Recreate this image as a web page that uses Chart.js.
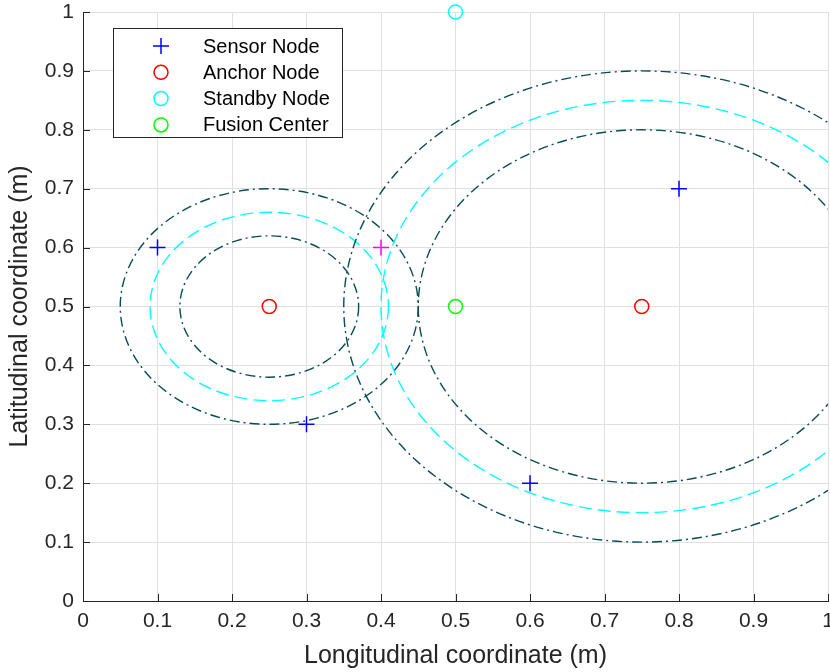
<!DOCTYPE html>
<html>
<head>
<meta charset="utf-8">
<script src="https://cdn.jsdelivr.net/npm/chart.js@4.4.1/dist/chart.umd.min.js"></script>
<style>
  html, body { margin: 0; padding: 0; background: #fff; }
  #wrap { width: 830px; height: 672px; }
</style>
</head>
<body>
<div id="wrap"><canvas id="myChart" width="830" height="672"></canvas></div>
<script>
// node positions (x = longitudinal, y = latitudinal)
const sensorX = [0.1, 0.3, 0.6, 0.8];
const sensorY = [0.6, 0.3, 0.2, 0.7];
const anchorX = [0.25, 0.75];
const anchorY = [0.5, 0.5];
const standbyX = [0.5];
const standbyY = [1.0];
const fusionX = [0.5];
const fusionY = [0.5];
const selectedX = [0.4];
const selectedY = [0.6];

// range rings round each anchor
const ringCenterX = [0.25, 0.25, 0.25, 0.75, 0.75, 0.75];
const ringCenterY = [0.5, 0.5, 0.5, 0.5, 0.5, 0.5];
const ringRadius = [0.12, 0.16, 0.2, 0.3, 0.35, 0.4];
const ringKind = ["bound", "mid", "bound", "bound", "mid", "bound"];

const tickValues = [0, 0.1, 0.2, 0.3, 0.4, 0.5, 0.6, 0.7, 0.8, 0.9, 1];

const FONT = "'Liberation Sans', Arial, sans-serif";
const AXIS_COLOR = "#262626";

function pts(xs, ys) {
  return xs.map((x, i) => ({ x: x, y: ys[i] }));
}

function noPad(s) {
  s.paddingLeft = 0;
  s.paddingRight = 0;
  s.paddingTop = 0;
  s.paddingBottom = 0;
}

// draws the rings through the chart scales
const ringPlugin = {
  id: "rings",
  beforeDatasetsDraw(chart) {
    const { ctx, chartArea, scales } = chart;
    ctx.save();
    ctx.beginPath();
    ctx.rect(chartArea.left, chartArea.top, chartArea.right - chartArea.left, chartArea.bottom - chartArea.top);
    ctx.clip();
    ringRadius.forEach((r, i) => {
      const cx = scales.x.getPixelForValue(ringCenterX[i]);
      const cy = scales.y.getPixelForValue(ringCenterY[i]);
      const rx = Math.abs(scales.x.getPixelForValue(ringCenterX[i] + r) - cx);
      const ry = Math.abs(scales.y.getPixelForValue(ringCenterY[i] + r) - cy);
      ctx.beginPath();
      ctx.ellipse(cx, cy, rx, ry, 0, 0, Math.PI * 2);
      ctx.lineWidth = 1.4;
      if (ringKind[i] === "mid") {
        ctx.strokeStyle = "#00ffff";
        ctx.setLineDash([13, 6]);
      } else {
        ctx.strokeStyle = "#0a4d4d";
        ctx.setLineDash([10, 4, 2, 4]);
      }
      ctx.stroke();
    });
    ctx.restore();
  }
};

// matlab style inward ticks + legend box inside the axes
const extrasPlugin = {
  id: "extras",
  afterDatasetsDraw(chart) {
    const { ctx, chartArea, scales } = chart;
    ctx.save();
    ctx.strokeStyle = AXIS_COLOR;
    ctx.lineWidth = 1;
    ctx.setLineDash([]);
    tickValues.forEach((v) => {
      const px = Math.round(scales.x.getPixelForValue(v)) + 0.5;
      ctx.beginPath();
      ctx.moveTo(px, chartArea.bottom);
      ctx.lineTo(px, chartArea.bottom - 7);
      ctx.stroke();
      const py = Math.round(scales.y.getPixelForValue(v)) + 0.5;
      ctx.beginPath();
      ctx.moveTo(chartArea.left, py);
      ctx.lineTo(chartArea.left + 7, py);
      ctx.stroke();
    });

    // legend
    const items = chart.data.datasets.filter((d) => d.inLegend);
    const bx = 113.5, by = 28.5, bw = 229, bh = 109;
    ctx.fillStyle = "#fff";
    ctx.fillRect(bx, by, bw, bh);
    ctx.strokeStyle = AXIS_COLOR;
    ctx.strokeRect(bx, by, bw, bh);
    ctx.font = "20px " + FONT;
    ctx.textBaseline = "middle";
    ctx.textAlign = "left";
    items.forEach((d, i) => {
      const y = 46 + i * 26.3;
      const x = 161;
      ctx.strokeStyle = d.borderColor;
      ctx.lineWidth = d.borderWidth;
      ctx.beginPath();
      if (d.pointStyle === "cross") {
        ctx.moveTo(x - d.pointRadius, y);
        ctx.lineTo(x + d.pointRadius, y);
        ctx.moveTo(x, y - d.pointRadius);
        ctx.lineTo(x, y + d.pointRadius);
      } else {
        ctx.arc(x, y, d.pointRadius, 0, Math.PI * 2);
      }
      ctx.stroke();
      ctx.fillStyle = "#000";
      ctx.fillText(d.label, 203, y + 1);
    });
    ctx.restore();
  }
};

const canvas = document.getElementById("myChart");

const markerBase = { showLine: false, clip: false, borderWidth: 1.5, backgroundColor: "rgba(0,0,0,0)" };

const chart = new Chart(canvas, {
  type: "scatter",
  data: {
    datasets: [
      { ...markerBase, label: "Sensor Node", inLegend: true, data: pts(sensorX, sensorY), pointStyle: "cross", pointRadius: 8, borderColor: "#0000ff" },
      { ...markerBase, label: "Anchor Node", inLegend: true, data: pts(anchorX, anchorY), pointStyle: "circle", pointRadius: 7, borderColor: "#ff0000" },
      { ...markerBase, label: "Standby Node", inLegend: true, data: pts(standbyX, standbyY), pointStyle: "circle", pointRadius: 7, borderColor: "#00ffff" },
      { ...markerBase, label: "Fusion Center", inLegend: true, data: pts(fusionX, fusionY), pointStyle: "circle", pointRadius: 7, borderColor: "#00ff00" },
      { ...markerBase, label: "Selected", inLegend: false, data: pts(selectedX, selectedY), pointStyle: "cross", pointRadius: 8, borderColor: "#ff00ff" },
    ],
  },
  options: {
    responsive: false,
    animation: false,
    layout: { autoPadding: false, padding: { left: 0, right: 2, top: 12, bottom: 0 } },
    plugins: { legend: { display: false }, tooltip: { enabled: false } },
    elements: { point: { hoverRadius: 7 } },
    scales: {
      x: {
        type: "linear",
        min: 0,
        max: 1,
        afterBuildTicks: (s) => { s.ticks = tickValues.map((v) => ({ value: v })); },
        afterFit: (s) => { s.height = 71; noPad(s); },
        ticks: { color: AXIS_COLOR, font: { family: FONT, size: 21 }, padding: 8, maxRotation: 0, callback: (v) => String(+v.toFixed(1)) },
        grid: { color: "#e0e0e0", drawTicks: false },
        border: { color: AXIS_COLOR, width: 1 },
        title: { display: true, text: "Longitudinal coordinate (m)", color: AXIS_COLOR, font: { family: FONT, size: 25 }, padding: { top: 0, bottom: 1 } },
      },
      y: {
        type: "linear",
        min: 0,
        max: 1,
        afterBuildTicks: (s) => { s.ticks = tickValues.map((v) => ({ value: v })); },
        afterFit: (s) => { s.width = 83; noPad(s); },
        ticks: { color: AXIS_COLOR, font: { family: FONT, size: 21 }, padding: 9, callback: (v) => String(+v.toFixed(1)) },
        grid: { color: "#e0e0e0", drawTicks: false },
        border: { color: AXIS_COLOR, width: 1 },
        title: { display: true, text: "Latitudinal coordinate (m)", color: AXIS_COLOR, font: { family: FONT, size: 25 }, padding: { top: 5, bottom: 0 } },
      },
    },
  },
  plugins: [ringPlugin, extrasPlugin],
});
</script>
</body>
</html>
